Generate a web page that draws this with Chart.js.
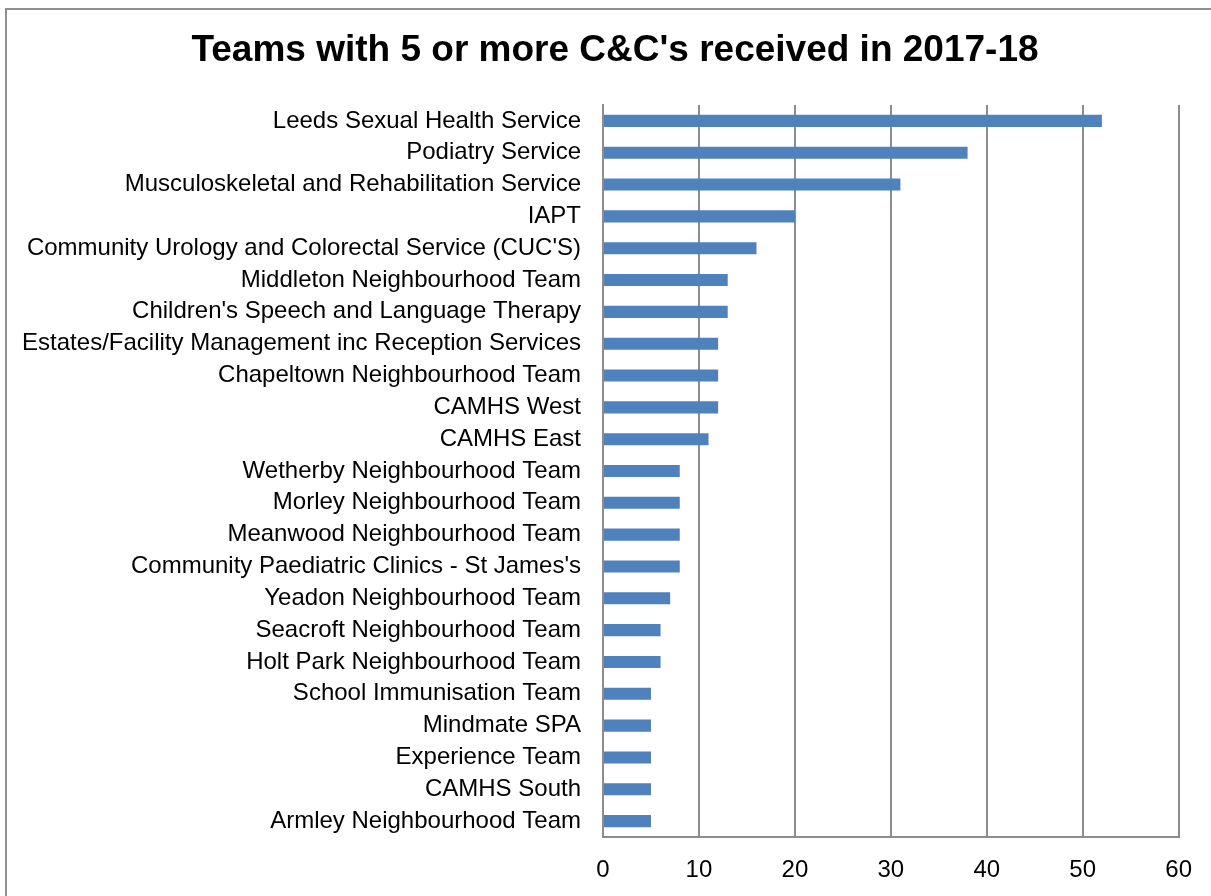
<!DOCTYPE html>
<html>
<head>
<meta charset="utf-8">
<script src="https://cdn.jsdelivr.net/npm/chart.js@4"></script>
<style>
html,body{margin:0;padding:0;background:#fff;}
#wrap{width:1211px;height:896px;position:relative;}
</style>
</head>
<body>
<div id="wrap"><canvas id="c" width="1211" height="896"></canvas></div>
<script>
const TITLE = "Teams with 5 or more C&C's received in 2017-18";
const categories = [
  "Leeds Sexual Health Service",
  "Podiatry Service",
  "Musculoskeletal and Rehabilitation Service",
  "IAPT",
  "Community Urology and Colorectal Service (CUC'S)",
  "Middleton Neighbourhood Team",
  "Children's Speech and Language Therapy",
  "Estates/Facility Management inc Reception Services",
  "Chapeltown Neighbourhood Team",
  "CAMHS West",
  "CAMHS East",
  "Wetherby Neighbourhood Team",
  "Morley Neighbourhood Team",
  "Meanwood Neighbourhood Team",
  "Community Paediatric Clinics - St James's",
  "Yeadon Neighbourhood Team",
  "Seacroft Neighbourhood Team",
  "Holt Park Neighbourhood Team",
  "School Immunisation Team",
  "Mindmate SPA",
  "Experience Team",
  "CAMHS South",
  "Armley Neighbourhood Team"
];
const counts = [52,38,31,20,16,13,13,12,12,12,11,8,8,8,8,7,6,6,5,5,5,5,5];
const xMin = 0, xMax = 60, xStep = 10;

const FONT = "'Liberation Sans', Arial, sans-serif";

const framePlugin = {
  id: 'frame',
  beforeDraw(chart) {
    const ctx = chart.ctx;
    ctx.save();
    ctx.fillStyle = '#fff';
    ctx.fillRect(0, 0, chart.width, chart.height);
    ctx.strokeStyle = '#8f8f8f';
    ctx.lineWidth = 2;
    ctx.strokeRect(6, 9, chart.width + 20, chart.height + 20);
    ctx.restore();
  },
  afterDraw(chart) {
    const ctx = chart.ctx;
    ctx.save();
    ctx.fillStyle = '#000';
    ctx.font = "bold 37px " + FONT;
    ctx.textAlign = 'center';
    ctx.textBaseline = 'middle';
    ctx.fillText(TITLE, 615, 51);
    ctx.restore();
  }
};

new Chart(document.getElementById('c'), {
  type: 'bar',
  data: {
    labels: categories,
    datasets: [{
      data: counts,
      backgroundColor: '#4f81bd',
      borderWidth: 0,
      categoryPercentage: 1,
      barPercentage: 0.38
    }]
  },
  options: {
    indexAxis: 'y',
    responsive: false,
    animation: false,
    devicePixelRatio: 1,
    layout: { padding: { left: 0, right: 31, top: 105, bottom: 0 } },
    plugins: { legend: { display: false }, title: { display: false }, tooltip: { enabled: false } },
    scales: {
      x: {
        position: 'bottom',
        min: xMin, max: xMax,
        ticks: { stepSize: xStep, color: '#000', font: { family: FONT, size: 24 }, padding: 19 },
        grid: { color: '#8c8c8c', lineWidth: 2, drawTicks: false },
        border: { display: true, color: '#8c8c8c', width: 2 },
        afterFit(scale) { scale.height = 59; }
      },
      y: {
        ticks: { color: '#000', font: { family: FONT, size: 24 }, padding: 22, autoSkip: false },
        grid: { display: false, drawTicks: false },
        border: { display: true, color: '#8c8c8c', width: 2 },
        afterFit(scale) { scale.width = 603; }
      }
    }
  },
  plugins: [framePlugin]
});
</script>
</body>
</html>
